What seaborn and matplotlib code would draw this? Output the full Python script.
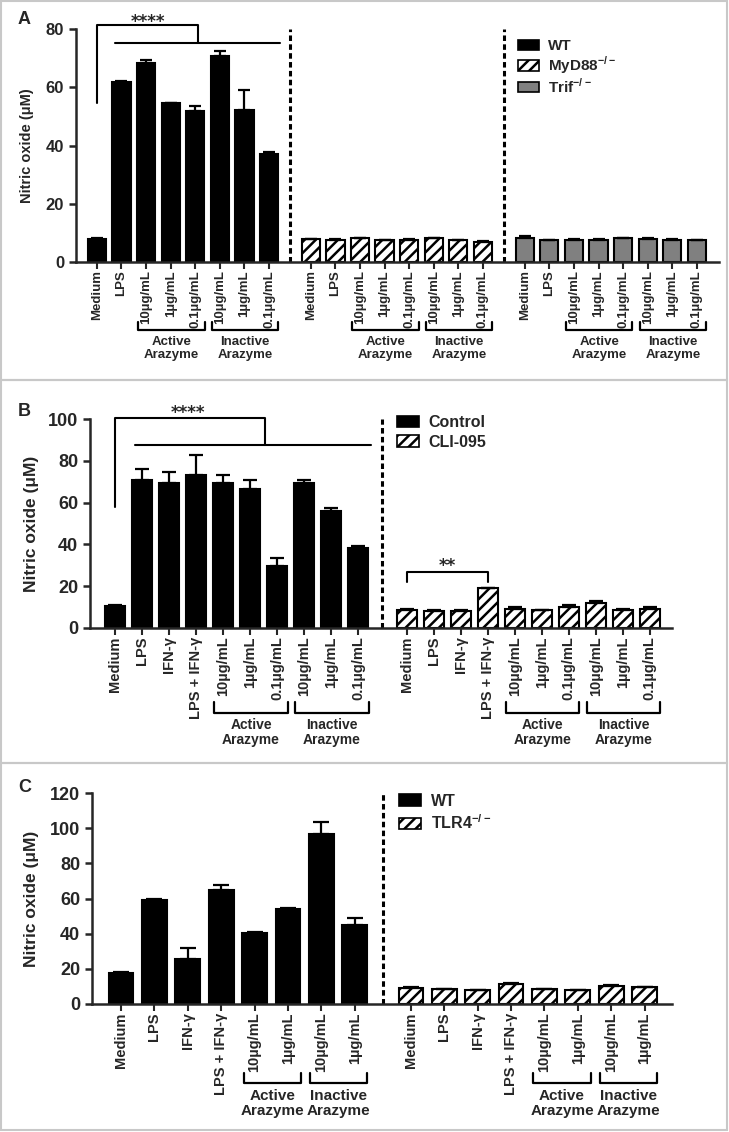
import numpy as np
import pandas as pd
import matplotlib
matplotlib.use('Agg')
import matplotlib.pyplot as plt
import seaborn as sns
from matplotlib.patches import Patch, Rectangle

sns.set_style('ticks')
plt.rcParams['font.family'] = ['Liberation Sans', 'DejaVu Sans']
plt.rcParams['font.weight'] = 'bold'
plt.rcParams['axes.labelweight'] = 'bold'
plt.rcParams['hatch.linewidth'] = 1.8
plt.rcParams['hatch.color'] = 'black'

# ---- Panel A: WT / MyD88-/- / Trif-/- ----
labels_A = ['Medium', 'LPS', '10µg/mL', '1µg/mL', '0.1µg/mL', '10µg/mL', '1µg/mL', '0.1µg/mL']
wt_A = [8.0, 61.8, 68.2, 54.5, 51.9, 70.6, 52.2, 37.0]
wt_A_err = [0.3, 0.2, 1.2, 0.2, 1.5, 1.8, 6.7, 0.6]
myd88_A = [7.8, 7.7, 8.2, 7.5, 7.7, 8.1, 7.5, 7.0]
myd88_A_err = [0.2, 0.1, 0.2, 0.1, 0.1, 0.2, 0.1, 0.1]
trif_A = [8.4, 7.5, 7.7, 7.7, 8.3, 8.0, 7.7, 7.4]
trif_A_err = [0.4, 0.1, 0.1, 0.1, 0.1, 0.1, 0.1, 0.1]
legend_A = ['WT', 'MyD88$^{\\mathregular{-/-}}$', 'Trif$^{\\mathregular{-/-}}$']

# ---- Panel B: Control / CLI-095 ----
labels_B = ['Medium', 'LPS', 'IFN-γ', 'LPS + IFN-γ', '10µg/mL', '1µg/mL', '0.1µg/mL',
            '10µg/mL', '1µg/mL', '0.1µg/mL']
control_B = [10.4, 70.8, 69.5, 73.2, 69.6, 66.5, 29.8, 69.2, 56.0, 38.2]
control_B_err = [0.5, 5.1, 5.3, 9.6, 3.4, 4.3, 3.8, 1.5, 1.2, 0.8]
cli_B = [8.8, 8.3, 8.3, 19.1, 9.2, 8.4, 10.2, 11.8, 8.6, 9.2]
cli_B_err = [0.2, 0.1, 0.1, 0.2, 1.0, 0.1, 0.6, 1.0, 0.5, 1.0]
legend_B = ['Control', 'CLI-095']

# ---- Panel C: WT / TLR4-/- ----
labels_C = ['Medium', 'LPS', 'IFN-γ', 'LPS + IFN-γ', '10µg/mL', '1µg/mL', '10µg/mL', '1µg/mL']
wt_C = [17.5, 59.2, 25.6, 64.9, 40.2, 54.1, 96.4, 45.0]
wt_C_err = [0.5, 0.3, 6.1, 2.9, 0.5, 0.3, 7.0, 3.8]
tlr4_C = [9.0, 8.5, 8.0, 11.5, 8.3, 8.0, 10.4, 9.6]
tlr4_C_err = [0.5, 0.1, 0.1, 0.3, 0.1, 0.1, 0.3, 0.2]
legend_C = ['WT', 'TLR4$^{\\mathregular{-/-}}$']

arazyme_groups = ['Active\nArazyme', 'Inactive\nArazyme']

BLACK, WHITE, GRAY = 'black', 'white', '#808080'

W, H = 729, 1132
fig = plt.figure(figsize=(W / 100, H / 100), dpi=100)


def px_axes(left, right, top, bottom):
    return fig.add_axes([left / W, 1 - bottom / H, (right - left) / W, (bottom - top) / H])


def bar_panel(ax, labels, groups, gap, xlim, ylim, yticks, tick_fs, ytick_fs, ylab_fs, cap):
    n = len(labels)
    positions = []
    for g, (vals, errs, color, hatch) in enumerate(groups):
        pos = np.arange(n) + g * (n + gap)
        df = pd.DataFrame({'pos': pos, 'value': vals})
        before = len(ax.patches)
        sns.barplot(data=df, x='pos', y='value', native_scale=True, orient='x',
                    color=color, saturation=1, width=0.74, edgecolor='black',
                    linewidth=1.5, errorbar=None, ax=ax)
        for p in ax.patches[before:]:
            p.set_hatch(hatch)
        ax.errorbar(pos, vals, yerr=[np.zeros(n), np.asarray(errs)], fmt='none',
                    ecolor='black', elinewidth=1.6, capsize=cap, capthick=1.6, zorder=3)
        positions.append(pos)
        if g > 0:
            ax.axvline(n - 1 + (1 + gap) / 2 + (g - 1) * (n + gap), color='black',
                       lw=2.2, ls=(0, (1.8, 1.1)))
    all_pos = np.concatenate(positions)
    ax.set_xticks(all_pos)
    ax.set_xticklabels(labels * len(groups), rotation=90, fontsize=tick_fs, fontweight='bold')
    ax.set_xlim(*xlim)
    ax.set_ylim(*ylim)
    ax.set_yticks(yticks)
    ax.tick_params(axis='y', labelsize=ytick_fs, width=1.8, length=5)
    ax.tick_params(axis='x', width=1.5, length=5, pad=1)
    for t in ax.get_yticklabels():
        t.set_fontweight('bold')
    ax.set_xlabel('')
    ax.set_ylabel('Nitric oxide (μM)', fontsize=ylab_fs, fontweight='bold')
    sns.despine(ax=ax)
    ax.spines['left'].set_linewidth(1.8)
    ax.spines['bottom'].set_linewidth(1.8)
    return positions


def group_brackets(ax, positions, spans, y_line, y_tick, y_text, fs):
    trans = ax.get_xaxis_transform()
    for pos in positions:
        for (i0, i1), name in zip(spans, arazyme_groups):
            x0, x1 = pos[i0] - 0.33, pos[i1] + 0.38
            ax.plot([x0, x0, x1, x1], [y_tick, y_line, y_line, y_tick], color='black',
                    lw=1.6, transform=trans, clip_on=False)
            ax.text((x0 + x1) / 2, y_text, name, transform=trans, ha='center', va='center',
                    fontsize=fs, fontweight='bold', linespacing=1.1)


def add_legend(ax, names, colors, hatches, anchor, fs, spacing):
    handles = [Patch(facecolor=c, edgecolor='black', hatch=h, linewidth=1.2)
               for c, h in zip(colors, hatches)]
    ax.legend(handles, names, loc='upper left', bbox_to_anchor=anchor, frameon=False,
              handlelength=1.4, handleheight=0.7, handletextpad=0.6,
              labelspacing=spacing, borderpad=0, borderaxespad=0,
              prop={'weight': 'bold', 'size': fs})


# ---------------- Panel A ----------------
axA = px_axes(76, 719, 29, 262)
posA = bar_panel(axA, labels_A,
                 [(wt_A, wt_A_err, BLACK, ''), (myd88_A, myd88_A_err, WHITE, '///'),
                  (trif_A, trif_A_err, GRAY, '')],
                 gap=0.7, xlim=(-0.85, 25.3), ylim=(0, 80), yticks=range(0, 81, 20),
                 tick_fs=9.5, ytick_fs=12, ylab_fs=10.5, cap=4)
axA.yaxis.set_label_coords(-0.066, 0.5)
group_brackets(axA, posA, [(2, 4), (5, 7)], -0.292, -0.258, -0.371, 9.5)
add_legend(axA, legend_A, [BLACK, WHITE, GRAY], ['', '///', ''], (0.687, 0.955), 11, 0.05)
axA.plot([0, 0, 4.1, 4.1], [54.6, 81.4, 81.4, 75.3], color='black', lw=1.5, clip_on=False)
axA.plot([0.73, 7.44], [75.3, 75.3], color='black', lw=1.5, clip_on=False)
axA.text(2.07, 79.4, '****', ha='center', va='bottom', fontsize=12, fontweight='bold',
         family='DejaVu Sans')

# ---------------- Panel B ----------------
axB = px_axes(90, 672, 419, 628)
posB = bar_panel(axB, labels_B,
                 [(control_B, control_B_err, BLACK, ''), (cli_B, cli_B_err, WHITE, '///')],
                 gap=0.78, xlim=(-0.93, 20.6), ylim=(0, 100), yticks=range(0, 101, 20),
                 tick_fs=10.5, ytick_fs=13, ylab_fs=12.5, cap=5)
axB.yaxis.set_label_coords(-0.088, 0.5)
group_brackets(axB, posB, [(4, 6), (7, 9)], -0.407, -0.353, -0.502, 10)
add_legend(axB, legend_B, [BLACK, WHITE], ['', '///'], (0.527, 1.02), 11.5, 0.3)
axB.plot([0, 0, 5.53, 5.53], [58, 100.6, 100.6, 87.6], color='black', lw=1.5, clip_on=False)
axB.plot([0.74, 9.48], [87.6, 87.6], color='black', lw=1.5, clip_on=False)
axB.text(2.7, 98.6, '****', ha='center', va='bottom', fontsize=12, fontweight='bold',
         family='DejaVu Sans')
m0, m1 = posB[1][0], posB[1][3]
axB.plot([m0, m0, m1, m1], [22.2, 27, 27, 22.2], color='black', lw=1.5)
axB.text((m0 + m1) / 2, 25.2, '**', ha='center', va='bottom', fontsize=12, fontweight='bold',
         family='DejaVu Sans')

# ---------------- Panel C ----------------
axC = px_axes(92, 672, 793, 1004)
posC = bar_panel(axC, labels_C,
                 [(wt_C, wt_C_err, BLACK, ''), (tlr4_C, tlr4_C_err, WHITE, '///')],
                 gap=0.68, xlim=(-0.87, 16.5), ylim=(0, 120), yticks=range(0, 121, 20),
                 tick_fs=10.5, ytick_fs=13, ylab_fs=12.5, cap=6)
axC.yaxis.set_label_coords(-0.092, 0.5)
group_brackets(axC, posC, [(4, 5), (6, 7)], -0.375, -0.328, -0.47, 11)
add_legend(axC, legend_C, [BLACK, WHITE], ['', '///'], (0.529, 0.997), 11.5, 0.3)

# panel letters and borders
for letter, (x, y) in zip('ABC', [(18, 20), (18, 412), (18, 787)]):
    fig.text(x / W, 1 - y / H, letter, fontsize=13, fontweight='bold', ha='left', va='center')
for top, bottom in [(1, 380), (380, 763), (763, 1130)]:
    fig.add_artist(Rectangle((1 / W, 1 - bottom / H), 726 / W, (bottom - top) / H,
                             transform=fig.transFigure, fill=False, edgecolor='#c8c8c8', lw=1.5))

fig.savefig('out.png', dpi=100)
